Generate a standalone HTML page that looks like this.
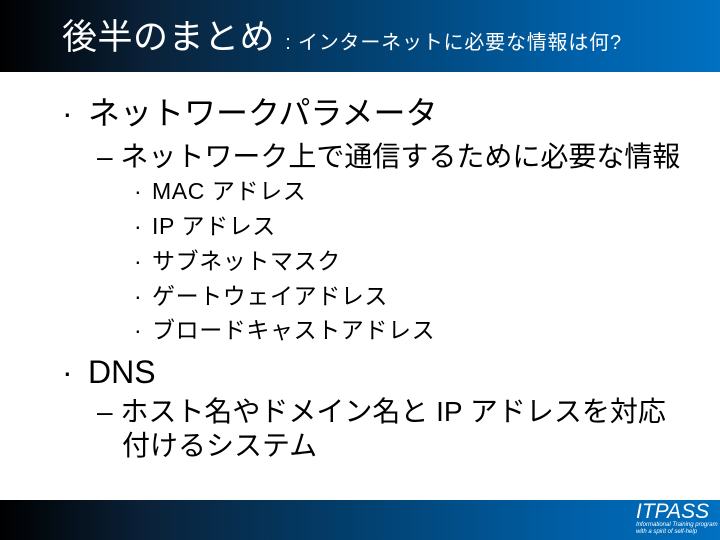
<!DOCTYPE html>
<html><head><meta charset="utf-8"><style>
body{margin:0;width:720px;height:540px;overflow:hidden;background:#fff;position:relative;font-family:"Liberation Sans","Noto Sans CJK JP",sans-serif;color:#000}
.bar{position:absolute;left:0;width:720px;background:linear-gradient(90deg,#000 0%,#0a2138 20%,#02406f 50%,#0060a8 80%,#0070c0 100%)}
.t{position:absolute;white-space:nowrap}
.s{font-size:23px;line-height:25px;letter-spacing:0.6px}
</style></head><body>
<div class="bar" style="top:0;height:72px"></div>
<div class="bar" style="top:500px;height:40px"></div>
<div class="t" style="left:62px;top:17px;font-size:35px;line-height:42px;color:#fff;letter-spacing:0.5px">後半のまとめ <span style="font-size:20px;letter-spacing:0.8px">: インターネットに必要な情報は何?</span></div>
<div class="t" style="left:636px;top:501px;font-size:21px;line-height:22px;color:#fff;font-style:italic">ITPASS</div>
<div class="t" style="left:636px;top:522px;font-size:6px;line-height:7px;color:#fff;font-style:italic">Informational Training program<br>with a spirit of self-help</div>

<div class="t" style="left:62px;top:97px;font-size:32px;line-height:32px">·</div>
<div class="t" style="left:88px;top:96px;font-size:32px;line-height:34px">ネットワークパラメータ</div>
<div class="t" style="left:97px;top:142px;font-size:28px;line-height:30px">– ネットワーク上で通信するために必要な情報</div>
<div class="t s" style="left:134px;top:179px">·</div><div class="t s" style="left:152px;top:179px">MAC アドレス</div>
<div class="t s" style="left:134px;top:214px">·</div><div class="t s" style="left:152px;top:214px">IP アドレス</div>
<div class="t s" style="left:134px;top:249px">·</div><div class="t s" style="left:152px;top:249px">サブネットマスク</div>
<div class="t s" style="left:134px;top:284px">·</div><div class="t s" style="left:152px;top:284px">ゲートウェイアドレス</div>
<div class="t s" style="left:134px;top:318px">·</div><div class="t s" style="left:152px;top:318px">ブロードキャストアドレス</div>
<div class="t" style="left:62px;top:356px;font-size:32px;line-height:32px">·</div>
<div class="t" style="left:88px;top:355px;font-size:32px;line-height:34px">DNS</div>
<div class="t" style="left:97px;top:397px;font-size:28px;line-height:30px">– ホスト名やドメイン名と IP アドレスを対応</div>
<div class="t" style="left:122px;top:431px;font-size:28px;line-height:30px">付けるシステム</div>
</body></html>
